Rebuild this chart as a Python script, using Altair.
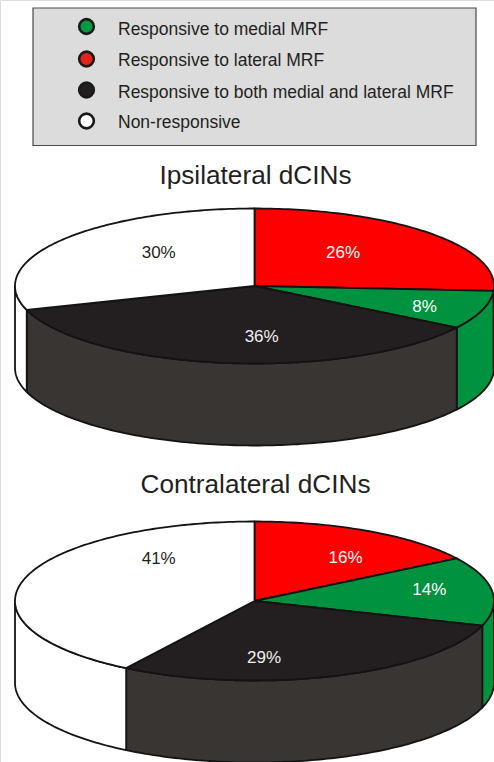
import math
import altair as alt
import pandas as pd

# Response categories, in clockwise order from twelve o'clock
CATEGORIES = ["lateral", "medial", "both", "none"]
IPSI_SHARES = [26, 8, 36, 30]
CONTRA_SHARES = [16, 14, 29, 41]

LEGEND_ORDER = ["medial", "lateral", "both", "none"]
LEGEND_TEXT = [
    "Responsive to medial MRF",
    "Responsive to lateral MRF",
    "Responsive to both medial and lateral MRF",
    "Non-responsive",
]

TOP_COLOR = {"lateral": "#ff0000", "medial": "#00923f", "both": "#231f20", "none": "#ffffff"}
SIDE_COLOR = {"lateral": "#ff0000", "medial": "#00923f", "both": "#393533", "none": "#ffffff"}
SWATCH_COLOR = {"lateral": "#e2231a", "medial": "#009a44", "both": "#231f20", "none": "#ffffff"}
LABEL_COLOR = {"lateral": "#ffffff", "medial": "#ffffff", "both": "#f0f0f0", "none": "#231f20"}

W, H = 494, 762
CX, RX, DEPTH = 254.5, 239.5, 82
STEP = 1.0

# Where each percentage sits inside the disc, as a fraction of the radii
IPSI_LABEL_POS = {"lateral": (0.37, -0.42), "medial": (0.71, 0.27), "both": (0.03, 0.66), "none": (-0.40, -0.42)}
CONTRA_LABEL_POS = {"lateral": (0.38, -0.54), "medial": (0.73, -0.14), "both": (0.04, 0.72), "none": (-0.40, -0.53)}


def sweep(start, end):
    n = max(2, int(abs(end - start) / STEP) + 1)
    return [start + (end - start) * i / (n - 1) for i in range(n)]


def pie_tables(name, shares, cy, ry, label_pos):
    def rim(deg):
        a = math.radians(deg)
        return CX + RX * math.sin(a), cy - ry * math.cos(a)

    tops, sides, labels = [], [], []
    start = 0.0
    for cat, share in zip(CATEGORIES, shares):
        end = start + share * 3.6
        key = f"{name}-{cat}"

        ring = [(CX, cy)] + [rim(d) for d in sweep(start, end)] + [(CX, cy)]
        tops += [dict(shape=key, i=i, x=x, y=y, fill=TOP_COLOR[cat]) for i, (x, y) in enumerate(ring)]

        # Only the part of the rim facing the viewer gets a wall
        lo, hi = max(start, 90.0), min(end, 270.0)
        if hi > lo:
            upper = [rim(d) for d in sweep(lo, hi)]
            lower = [(x, y + DEPTH) for x, y in reversed(upper)]
            wall = upper + lower + upper[:1]
            sides += [dict(shape=key, i=i, x=x, y=y, fill=SIDE_COLOR[cat]) for i, (x, y) in enumerate(wall)]

        fx, fy = label_pos[cat]
        labels.append(dict(x=CX + fx * RX, y=cy + fy * ry, text=f"{share}%", color=LABEL_COLOR[cat]))
        start = end
    return tops, sides, labels


ipsi_top, ipsi_side, ipsi_lab = pie_tables("ipsi", IPSI_SHARES, 286, 77.5, IPSI_LABEL_POS)
contra_top, contra_side, contra_lab = pie_tables("contra", CONTRA_SHARES, 601, 79.5, CONTRA_LABEL_POS)

x_enc = alt.X("x:Q", scale=alt.Scale(domain=[0, W]), axis=None)
y_enc = alt.Y("y:Q", scale=alt.Scale(domain=[H, 0]), axis=None)


def polygons(rows):
    return (
        alt.Chart(pd.DataFrame(rows))
        .mark_line(filled=True, stroke="#141212", strokeWidth=1.8, strokeJoin="round", interpolate="linear", clip=True)
        .encode(x=x_enc, y=y_enc, detail="shape:N", order="i:Q", fill=alt.Fill("fill:N", scale=None))
    )


def texts(rows, size):
    return (
        alt.Chart(pd.DataFrame(rows))
        .mark_text(font="Liberation Sans", fontSize=size, align="center", baseline="middle")
        .encode(x=x_enc, y=y_enc, text="text:N", color=alt.Color("color:N", scale=None))
    )


# Key box
box = (
    alt.Chart(pd.DataFrame([dict(x=33, x2=476, y=8, y2=145.5)]))
    .mark_rect(fill="#dcdcdc", stroke="#4a4a4a", strokeWidth=1.2)
    .encode(x=x_enc, x2="x2:Q", y=y_enc, y2="y2:Q")
)
ROW_SYMBOL_Y = [26.5, 59, 90, 121]
ROW_TEXT_Y = [29.5, 61, 92.5, 122.5]
swatches = (
    alt.Chart(pd.DataFrame([
        dict(x=86.5, y=y, fill=SWATCH_COLOR[c]) for y, c in zip(ROW_SYMBOL_Y, LEGEND_ORDER)
    ]))
    .mark_point(filled=True, shape="circle", size=215, stroke="#1a1a1a", strokeWidth=2.6, opacity=1)
    .encode(x=x_enc, y=y_enc, fill=alt.Fill("fill:N", scale=None))
)
key_text = (
    alt.Chart(pd.DataFrame([dict(x=118, y=y, text=t) for y, t in zip(ROW_TEXT_Y, LEGEND_TEXT)]))
    .mark_text(font="Liberation Sans", fontSize=17.5, align="left", baseline="middle", color="#231f20")
    .encode(x=x_enc, y=y_enc, text="text:N")
)

titles = texts([
    dict(x=255.5, y=176, text="Ipsilateral dCINs", color="#231f20"),
    dict(x=255.5, y=485, text="Contralateral dCINs", color="#231f20"),
], 26.2)

chart = alt.layer(
    box, swatches, key_text, titles,
    polygons(ipsi_side), polygons(ipsi_top), texts(ipsi_lab, 17),
    polygons(contra_side), polygons(contra_top), texts(contra_lab, 17),
).properties(
    width=W, height=H, padding=0, autosize=alt.AutoSizeParams(type="none"),
).configure_view(stroke=None).configure(background="#ffffff")

chart.save("out.html", embed_options={"renderer": "svg", "actions": False})
